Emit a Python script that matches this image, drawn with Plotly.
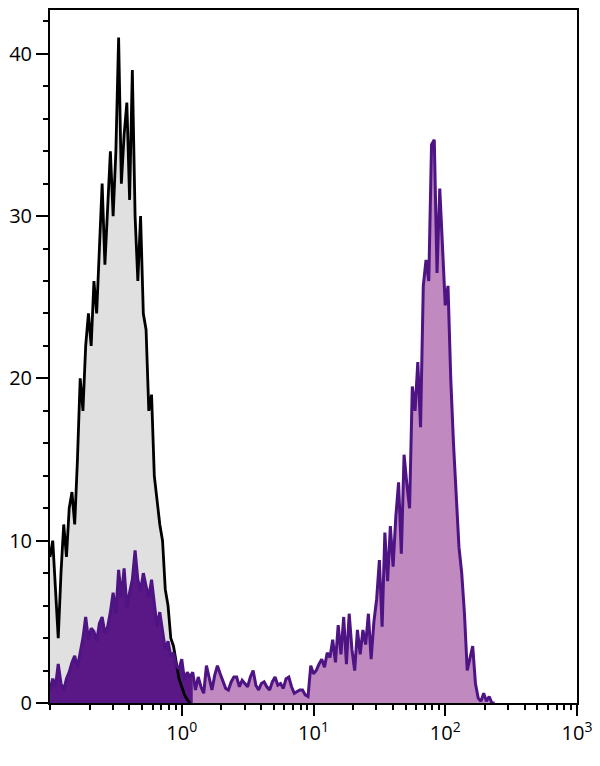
import numpy as np
import plotly.graph_objects as go

# Histogram channel grid (log scale): 48 channels per decade starting at 10^-1
LOG_START = -1.0
CH_PER_DECADE = 48

# Control (unstained) histogram - gray fill, black outline
control_counts = [
    9, 10, 7, 4, 8, 11, 9, 12, 13, 11,
    15, 20, 18, 22, 24, 22, 26, 24, 28, 32,
    27, 31, 34, 30, 34, 41, 32, 35, 37, 31,
    39, 30, 26, 30, 24, 23, 18, 19, 14, 12.5,
    11, 10, 7, 6, 4, 3.5, 2.5, 1.5, 1, 0.5,
    0.2, 0,
]

# Stained histogram - purple
stained_counts = [
    0.8, 1.5, 1.0, 2.4, 1.2, 0.8, 1.5, 1.9, 2.5, 2.9,
    2.2, 3.1, 4.0, 5.3, 3.9, 4.6, 4.4, 3.8, 4.9, 5.3,
    4.3, 4.7, 5.6, 6.8, 5.5, 8.2, 6.5, 8.3, 5.9, 6.8,
    7.6, 9.4, 7.6, 6.9, 8.0, 7.2, 6.5, 7.6, 6.3, 4.7,
    5.6, 4.5, 3.3, 3.8, 2.9, 3.1, 2.3, 2.1, 2.7, 1.4,
    1.9, 1.6, 1.9, 0.8, 1.6, 1.0, 0.6, 2.3, 1.5, 0.8,
    1.7, 2.3, 1.8, 1.4, 0.9, 0.8, 1.3, 1.6, 1.6, 1.0,
    1.4, 1.2, 1.0, 1.6, 2.0, 1.1, 0.8, 1.2, 1.3, 1.0,
    0.8, 1.3, 1.6, 1.1, 1.2, 0.9, 1.5, 1.6, 1.0, 0.6,
    0.7, 0.8, 0.8, 0.5, 0.4, 2.3, 1.8, 2.0, 2.4, 2.7,
    2.2, 3.1, 2.8, 3.9, 2.5, 4.8, 3.0, 5.3, 2.4, 5.5,
    3.3, 2.0, 4.5, 3.0, 4.5, 3.6, 5.5, 2.7, 5.0, 6.4,
    8.8, 4.7, 10.5, 7.5, 10.9, 8.4, 11.5, 13.6, 9.2, 15.3,
    13.5, 12.0, 19.5, 18.0, 21.0, 17.0, 25.7, 27.3, 26.0, 34.4,
    34.7, 26.5, 31.7, 27.7, 24.5, 25.7, 20.0, 16.0, 12.3, 9.6,
    8.0, 5.5, 2.0, 2.8, 3.5, 1.2, 0.3, 0.1, 0.6, 0.1,
    0.4, 0, 0,
]
DARK_CHANNELS = 53  # low-intensity population drawn with the darker fill

x_tick_vals = [1, 10, 100, 1000]
x_tick_text = ["10<sup>0</sup>", "10<sup>1</sup>", "10<sup>2</sup>", "10<sup>3</sup>"]
y_tick_vals = [0, 10, 20, 30, 40]

GRAY_FILL = "#e0e0e0"
PURPLE_LINE = "#4e1484"
PURPLE_FILL = "#c08ac1"
PURPLE_DARK = "#5a1786"


def channels(n):
    return 10 ** (LOG_START + np.arange(n) / CH_PER_DECADE)


xc = channels(len(control_counts))
xs = channels(len(stained_counts))

fig = go.Figure()
fig.add_trace(go.Scatter(x=xc, y=control_counts, mode="lines", fill="tozeroy",
                         fillcolor=GRAY_FILL, line=dict(width=0, color=GRAY_FILL),
                         hoverinfo="skip", showlegend=False))
fig.add_trace(go.Scatter(x=xs, y=stained_counts, mode="lines", fill="tozeroy",
                         fillcolor=PURPLE_FILL, line=dict(width=0, color=PURPLE_FILL),
                         hoverinfo="skip", showlegend=False))
fig.add_trace(go.Scatter(x=xs[:DARK_CHANNELS], y=stained_counts[:DARK_CHANNELS], mode="lines",
                         fill="tozeroy", fillcolor=PURPLE_DARK,
                         line=dict(width=0, color=PURPLE_DARK),
                         hoverinfo="skip", showlegend=False))
fig.add_trace(go.Scatter(x=xc, y=control_counts, mode="lines",
                         line=dict(width=2.8, color="black"),
                         hoverinfo="skip", showlegend=False))
fig.add_trace(go.Scatter(x=xs, y=stained_counts, mode="lines",
                         line=dict(width=3, color=PURPLE_LINE),
                         hoverinfo="skip", showlegend=False))

font = dict(family="Open Sans, Noto Sans, sans-serif", size=20, color="black")

# the page body adds an 8px offset; figure sized so the plot box lands at 50..577 x 10..703
fig.update_layout(
    width=592, height=758,
    margin=dict(l=42, r=23, t=2, b=63, autoexpand=False),
    paper_bgcolor="white", plot_bgcolor="white",
    font=font,
    showlegend=False,
)
fig.update_xaxes(
    type="log", range=[-1, 3], automargin=False,
    tickvals=x_tick_vals, ticktext=x_tick_text,
    ticks="outside", ticklen=11, tickwidth=2, tickcolor="black",
    showline=True, linewidth=2, linecolor="black", mirror=True,
    showgrid=False, zeroline=False,
    minor=dict(ticks="outside", ticklen=5, tickwidth=2, tickcolor="black",
               dtick="D1", showgrid=False),
    tickfont=font,
)
fig.update_yaxes(
    range=[0, 42.7], automargin=False,
    tickvals=y_tick_vals,
    ticks="outside", ticklen=12, tickwidth=2, tickcolor="black",
    showline=True, linewidth=2, linecolor="black", mirror=True,
    showgrid=False, zeroline=False,
    minor=dict(ticks="outside", ticklen=5, tickwidth=2, tickcolor="black",
               dtick=2, showgrid=False),
    tickfont=font,
)

fig.write_html("out.html")
